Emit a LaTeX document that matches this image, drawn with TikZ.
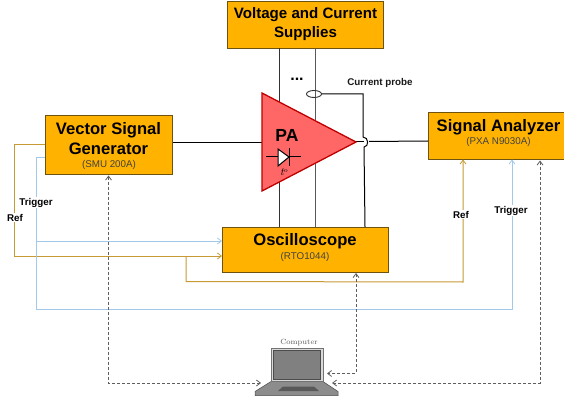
\documentclass[tikz,border=0pt]{standalone}
\usepackage{fontspec}
\setmainfont{Liberation Sans}
\newfontfamily\cmserif{Latin Modern Roman}
\usetikzlibrary{arrows.meta,calc,shapes.geometric}
\definecolor{boxfill}{HTML}{FFB300}
\definecolor{boxedge}{HTML}{6E5210}
\definecolor{gold}{HTML}{C79A35}
\definecolor{skyb}{HTML}{A3C8E8}
\definecolor{dgrey}{HTML}{5E5E5E}
\tikzset{
  x=1pt,y=-1pt,
  box/.style={draw=boxedge,fill=boxfill,line width=1pt,inner sep=0pt,align=center,anchor=north west},
  title/.style={font=\fontsize{16.6}{20}\selectfont\bfseries},
  sub/.style={font=\fontsize{9.8}{11}\selectfont,text=black!75},
  lab/.style={font=\fontsize{9.8}{11}\selectfont\bfseries,fill=white,inner sep=1pt},
  wire/.style={line width=1pt,draw=black!80},
  goldw/.style={line width=1pt,draw=gold},
  bluew/.style={line width=1pt,draw=skyb},
  dashw/.style={line width=0.8pt,draw=dgrey,dash pattern=on 3pt off 2pt},
  opent/.style={-{Straight Barb[length=4pt,width=6pt,line width=0.8pt]}},
  bothend/.style={{Straight Barb[length=4pt,width=6pt,line width=0.8pt]}-{Straight Barb[length=4pt,width=6pt,line width=0.8pt]}},
}
\begin{document}
\begin{tikzpicture}
\useasboundingbox (0,0) rectangle (564,403);
\fill[white] (0,0) rectangle (564,403);
% boxes
\node[box,minimum width=156pt,minimum height=47pt] (sup) at (227,1) {};
\node[font=\fontsize{15.1}{20}\selectfont\bfseries] (suptxt) at (305.5,24) {\shortstack[c]{Voltage and Current\\[1.5pt]Supplies}};
\node[box,minimum width=127pt,minimum height=59pt] (vsg) at (45,115) {};
\node[title] (vsgtxt) at (108.5,138.5) {\shortstack[c]{Vector Signal\\[2.5pt]Generator}};
\node[sub] (vsgsub) at (109,164.5) {(SMU 200A)};
\node[box,minimum width=166pt,minimum height=45pt] (osc) at (222,227) {};
\node[title] (osctxt) at (305,241) {Oscilloscope};
\node[sub] (oscsub) at (305,257) {(RTO1044)};
\node[box,minimum width=140pt,minimum height=47pt] (sa) at (428,112) {};
\node[title] (satxt) at (498.5,127) {Signal Analyzer};
\node[sub] (sasub) at (498.5,142) {(PXA N9030A)};
% coordinates
\coordinate (pain) at (262,142.5);
\coordinate (paout) at (356,142);
\coordinate (s1) at (279,48);
\coordinate (s1b) at (279,227);
\coordinate (s2) at (315,48);
\coordinate (s2b) at (315,227);
\coordinate (pr) at (321.5,94);
\coordinate (h1) at (363,94);
\coordinate (h2) at (363,137);
\coordinate (h3) at (364,147);
\coordinate (h4) at (365,227);
% black wires
\draw[wire,black] (vsg.east |- pain) -- (pain);
\draw[wire] (s1) -- (s1b);
\draw[wire,black!65] (s2) -- (s2b);
\draw[wire,black] (paout) -- (364,142);
\draw[wire,black] (369,141.5) -- (sa.west |- 0,141);
\draw[wire,black] (pr) -- (h1) -- (h2) .. controls (369,137) and (369,147) .. (h3) -- (h4);
\node[draw=black!80,line width=0.9pt,ellipse,minimum width=15pt,minimum height=7pt,inner sep=0pt] (probe) at (314,94) {};
% PA
\draw[draw=red!75!black,fill=red!60!white,line width=1.3pt,line join=miter] (262,93) -- (356,142) -- (262,191) -- cycle;
\node[font=\fontsize{17.5}{18}\selectfont\bfseries] (pa) at (287,135.5) {PA};
\draw[line width=1pt,black] (266,157) -- (301,157);
\draw[line width=1pt,black,fill=white] (278,149) -- (289,157) -- (278,166) -- cycle;
\draw[line width=1pt,black] (289,148) -- (289,166);
\node[font=\cmserif\fontsize{11}{12}\selectfont\itshape] (tdeg) at (284,172.5) {t\raisebox{3pt}{\fontsize{6.5}{7}\selectfont\upshape o}};
\node[font=\fontsize{16}{16}\selectfont\bfseries] (dots) at (297,79) {...};
\node[font=\fontsize{9.8}{11}\selectfont\bfseries,text=black!90] (cp) at (380,83) {Current probe};
% gold
\draw[goldw,opent] (45,144.5) -- (14,144.5) -- (14,256) -- (osc.west |- 0,256);
\draw[goldw,opent] (186,256) -- (186,281.5) -- (463,282) -- (463,159.5);
% blue
\draw[bluew,opent] (45,157.5) -- (36,157.5) -- (36,241) -- (osc.west |- 0,241);
\draw[bluew,opent] (36,241) -- (36,309.5) -- (512,309.5) -- (512,159.5);
% labels on wires
\node[lab] (trg1) at (36,202.5) {Trigger};
\node[lab] (ref1) at (15,217.5) {Ref};
\node[lab] (ref2) at (461,214.5) {Ref};
\node[lab] (trg2) at (511,210.5) {Trigger};
% dashed
\draw[dashw,bothend] (108.5,175.5) -- (108.5,383) -- (261,383);
\draw[dashw,bothend] (356,273) -- (356,373.5) -- (327,373.5);
\draw[dashw,bothend] (540,160.5) -- (540,383) -- (332,383);
% laptop
\fill[black!45] (255,391.5) -- (271,381.5) -- (323,381.5) -- (338,391.5) -- (338,395.5) -- (255,395.5) -- cycle;
\draw[black!70,line width=0.5pt] (255,391.5) -- (271,381.5) -- (323,381.5) -- (338,391.5) -- (338,395.5) -- (255,395.5) -- cycle;
\draw[black!55,fill=white!85!black,line width=0.7pt] (271,348) rectangle (323,381.5);
\draw[black!70,fill=black!50,line width=0.7pt] (273,350) rectangle (320,379);
\fill[black!65] (278,391) -- (283,386.5) -- (314,386.5) -- (319,391) -- cycle;
\node[font=\cmserif\fontsize{7.5}{8}\selectfont,text=black!65] (comp) at (299,343) {Computer};
\end{tikzpicture}
\end{document}
